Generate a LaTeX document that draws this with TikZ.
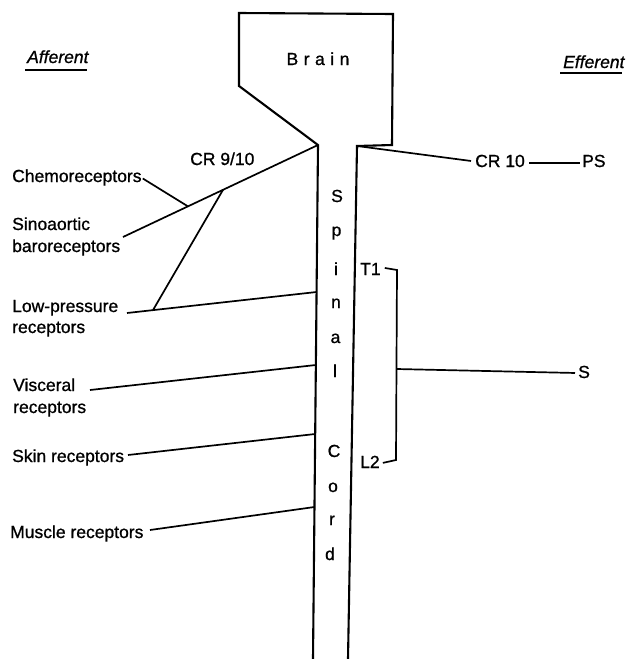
\documentclass[tikz,border=0pt]{standalone}
\usepackage{fontspec}
\setmainfont{Liberation Sans}[FakeBold=0.9]
\newfontfamily\itfam{Liberation Sans Italic}[FakeBold=0.9]
\usetikzlibrary{calc}
\begin{document}
\begin{tikzpicture}[x=1pt,y=-1pt,
  txt/.style={inner sep=0pt, anchor=base west, font=\fontsize{17.5}{21}\selectfont},
  cordtxt/.style={inner sep=0pt, anchor=base, font=\fontsize{17.5}{21}\selectfont},
  outline/.style={line width=2.1pt, line join=miter},
  conn/.style={line width=1.7pt},
  uline/.style={line width=2pt}]
\useasboundingbox (0,0) rectangle (627,659);
\fill[white] (0,0) rectangle (627,659);

% brain and spinal cord outline
\coordinate (cordLB) at (313,659);
\coordinate (cl) at (318,145);
\coordinate (bl2) at (239,86);
\coordinate (bl1) at (239,13);
\coordinate (br1) at (393,14);
\coordinate (br2) at (392,145);
\coordinate (cr) at (357,146);
\coordinate (cordRB) at (348,659);
\draw[outline] (cordLB) -- (cl) -- (bl2) -- (bl1) -- (br1) -- (br2) -- (cr) -- (cordRB);

\node[cordtxt] (brain) at (318,65) {B\hspace{5.5pt}r\hspace{5.5pt}a\hspace{5.5pt}i\hspace{5.5pt}n};

% spinal cord letters
\node[cordtxt] (s1) at (337,202) {S};
\node[cordtxt] (s2) at (336.5,236) {p};
\node[cordtxt] (s3) at (336,275) {i};
\node[cordtxt] (s4) at (336,308) {n};
\node[cordtxt] (s5) at (335.5,343) {a};
\node[cordtxt] (s6) at (335,377) {l};
\node[cordtxt] (c1) at (334,457) {C};
\node[cordtxt] (c2) at (333,492) {o};
\node[cordtxt] (c3) at (332,525) {r};
\node[cordtxt] (c4) at (330,560) {d};

% headings
\node[txt, font=\fontsize{17.5}{21}\selectfont\itfam] (aff) at (27,63) {Afferent};
\draw[uline] ([xshift=-2pt,yshift=-7pt]aff.south west) -- ([xshift=-2pt,yshift=-7pt]aff.south east);
\node[txt, font=\fontsize{17.5}{21}\selectfont\itfam] (eff) at (563,68) {Efferent};
\draw[uline] ([xshift=-3pt,yshift=-5pt]eff.south west) -- ([xshift=-3pt,yshift=-5pt]eff.south east);

% afferent labels
\node[txt] (cr910) at (190,165) {CR 9/10};
\node[txt] (chem) at (12,182) {Chemoreceptors};
\node[txt] (sino) at (12,230) {Sinoaortic};
\node[txt] (sinob) at (12,252) {baroreceptors};
\node[txt] (lowp) at (12,312) {Low-pressure};
\node[txt] (lowpb) at (12,333) {receptors};
\node[txt] (visc) at (13,391) {Visceral};
\node[txt] (viscb) at (13,413) {receptors};
\node[txt] (skin) at (12,462) {Skin receptors};
\node[txt] (musc) at (10,538) {Muscle receptors};

% afferent connector end points
\coordinate (sinoE) at (123,237);
\coordinate (lpE) at (127,313);
\coordinate (lpC) at (316.6,292);
\coordinate (viE) at (90,390);
\coordinate (viC) at (315.9,365);
\coordinate (skE) at (128,455);
\coordinate (skC) at (315.2,434);
\coordinate (muE) at (150,530);
\coordinate (muC) at (314.5,507);
\coordinate (chemJ) at ($(cl)!0.667!(sinoE)$);
\coordinate (jn) at ($(cl)!0.487!(sinoE)$);
\coordinate (lpJ) at ($(lpE)!0.137!(lpC)$);

\draw[conn] (cl) -- (sinoE);
\draw[conn] ([xshift=1pt,yshift=-1pt]chem.east) -- (chemJ);
\draw[conn] (lpE) -- (lpC);
\draw[conn] (jn) -- (lpJ);
\draw[conn] (viE) -- (viC);
\draw[conn] (skE) -- (skC);
\draw[conn] (muE) -- (muC);

% efferent side
\node[txt] (cr10) at (475,167) {CR 10};
\node[txt] (ps) at (582,167) {PS};
\node[txt] (t1) at (360,275) {T1};
\node[txt] (l2) at (360,468) {L2};
\node[txt] (sy) at (578,378) {S};
\coordinate (brT) at (397,270);
\coordinate (brB) at (396,460);
\coordinate (brM) at (396.5,369);

\draw[conn] (cr) -- ([xshift=-4pt]cr10.west);
\draw[conn] ([xshift=4pt,yshift=-2pt]cr10.east) -- ([xshift=-2pt,yshift=-2pt]ps.west);
\draw[conn] ([xshift=4pt,yshift=1pt]t1.east) -- (brT) -- (brB) -- ([xshift=3pt,yshift=-1pt]l2.east);
\draw[conn] (brM) -- ([xshift=-3pt,yshift=-1pt]sy.west);
\end{tikzpicture}
\end{document}
